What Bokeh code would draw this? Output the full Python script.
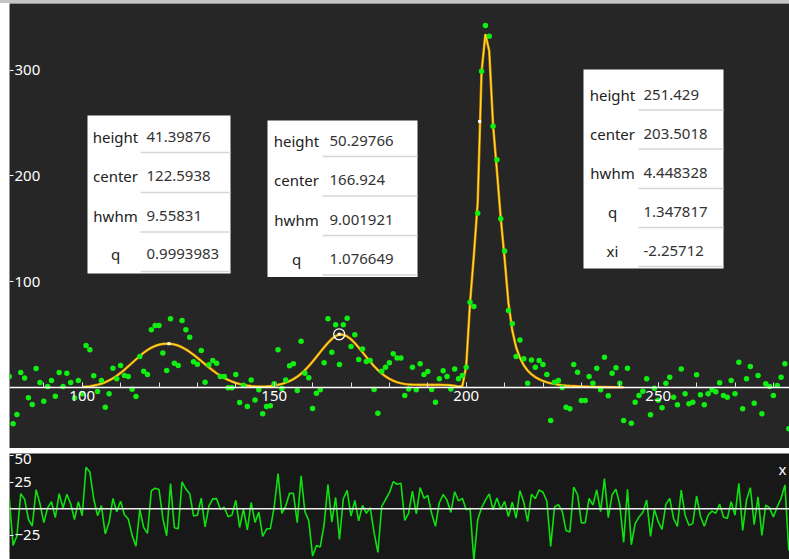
from bokeh.plotting import figure
from bokeh.layouts import column, row
from bokeh.models import Range1d, LinearAxis, FixedTicker, Span, Label, BoxAnnotation, Spacer
from bokeh.embed import file_html
from bokeh.resources import INLINE

# ---------------- data ----------------
x_data = list(range(81, 285))

y_obs = [
    10.4, -34.3, -25.5, 14.2, 9.0, -9.8, -16.1, 18.0, 4.7, -12.9,          # 81-90
    0.9, 6.6, -8.2, 14.2, 0.9, 13.5, 4.7, -10.0, 6.6, -6.0,                # 91-100
    39.7, 35.6, 11.0, -3.8, 6.6, -18.6, -6.0, 18.3, 8.2, 20.8,             # 101-110
    11.3, 10.4, -1.6, -8.5, 29.3, 15.4, 12.3, 54.5, 58.6, 58.6,            # 111-120
    32.5, 16.1, 64.9, 23.0, 20.8, 63.3, 54.5, 47.6, 24.3, 22.0,            # 121-130
    35.0, 5.0, 21.4, 25.5, 23.0, 10.4, 10.4, -0.3, -0.3, 12.3,             # 131-140
    -14.2, 2.2, -18.0, 7.2, -11.7, -2.2, -24.9, -18.0, -17.3, 3.5,         # 141-150
    35.6, -1.0, 7.2, 20.5, 22.4, -2.8, 43.8, 13.5, 9.1, -19.8,             # 151-160
    -5.4, -2.2, 23.3, 64.9, 33.4, 59.2, 21.7, 59.2, 65.5, 38.8,            # 161-170
    49.8, 26.5, 36.5, 24.6, 25.5, -1.9, -24.3, 15.4, 19.2, 23.3,           # 171-180
    31.8, 28.0, 28.0, -7.6, -1.3, 19.2, -2.2, 22.4, 12.3, 15.1,            # 181-190
    -1.9, -13.9, 8.2, 15.8, 10.4, -1.3, 17.6, 8.2, 11.3, 19.2,             # 191-200
    80.6, 76.6, 164.8, 299.0, 342.2, 332.0, 247.0, 215.2, 159.4, 128.9,    # 201-210
    72.8, 60.2, 29.3, 45.0, 27.1, 4.1, 26.1, 19.2, 25.5, 21.7,             # 211-220
    12.3, -31.2, 5.0, 6.6, 0.0, -18.6, -20.2, 21.7, 14.5, -12.3,           # 221-230
    -12.3, 10.4, 4.1, 18.3, -2.2, 28.7, -7.9, 13.5, 18.6, 4.1,             # 231-240
    -31.2, 18.3, -33.7, -13.9, -7.6, -3.5, 8.2, -25.8, -0.6, -12.0,        # 241-250
    -19.2, 4.1, 9.8, -9.1, -16.4, 17.6, -6.0, -15.4, -13.9, 12.0,          # 251-260
    -6.9, -16.4, -6.0, -2.2, -4.1, 4.4, -7.6, -9.1, 6.6, -6.0,             # 261-270
    23.9, -20.2, 8.2, 19.8, -14.8, 11.3, -24.9, 3.5, 0.9, -7.6,            # 271-280
    1.9, 9.8, 22.4, -39.0,                                                 # 281-284
]

y_fit = [
    0, 0, 0, 0, 0, 0, 0, 0, 0, 0,                                          # 81-90
    0, 0, 0, 0, 0, 0, 0, 0, 0, 0.5,                                        # 91-100
    0.8, 1.2, 1.8, 2.6, 3.6, 5.0, 6.7, 8.7, 11.1, 13.8,                    # 101-110
    16.8, 20.0, 23.3, 26.6, 29.8, 32.8, 35.4, 37.6, 39.3, 40.5,            # 111-120
    41.2, 41.4, 41.3, 40.7, 39.6, 38.0, 36.0, 33.6, 30.9, 28.0,            # 121-130
    25.0, 22.0, 19.0, 16.2, 13.5, 11.1, 9.0, 7.2, 5.6, 4.3,                # 131-140
    3.3, 2.4, 1.8, 1.3, 1.0, 0.9, 0.9, 1.0, 1.3, 1.8,                      # 141-150
    2.5, 3.4, 4.6, 6.0, 7.9, 10.2, 13.0, 16.3, 20.2, 24.5,                 # 151-160
    29.0, 33.5, 38.0, 42.2, 45.8, 48.6, 50.3, 49.8, 48.3, 45.6,            # 161-170
    42.0, 37.8, 33.3, 28.8, 24.4, 20.2, 16.5, 13.2, 10.5, 8.2,             # 171-180
    6.4, 5.0, 4.0, 3.3, 2.9, 2.7, 2.6, 2.5, 2.5, 2.5,                      # 181-190
    2.5, 2.5, 2.5, 2.4, 2.3, 2.1, 1.6, 0.8, 1.5, 20.0,                     # 191-200
    80.0, 125.0, 175.0, 298.0, 334.0, 318.0, 248.0, 205.0, 160.0, 122.0,   # 201-210
    80.0, 54.0, 38.0, 28.0, 21.0, 16.0, 12.5, 9.8, 7.8, 6.2,               # 211-220
    5.0, 4.0, 3.3, 2.7, 2.2, 1.8, 1.5, 1.3, 1.1, 0.9,                      # 221-230
    0.8, 0.7, 0.6, 0.5, 0.5, 0.4, 0.4, 0.3, 0.3, 0.3,                      # 231-240
    0.2, 0, 0, 0, 0, 0, 0, 0, 0, 0,                                        # 241-250
    0, 0, 0, 0, 0, 0, 0, 0, 0, 0,                                          # 251-260
    0, 0, 0, 0, 0, 0, 0, 0, 0, 0,                                          # 261-270
    0, 0, 0, 0, 0, 0, 0, 0, 0, 0,                                          # 271-280
    0, 0, 0, 0,                                                            # 281-284
]

residual = [o - f for o, f in zip(y_obs, y_fit)]

# the model curve is only drawn where it is defined (non-zero)
curve_x = [xv for xv, fv in zip(x_data, y_fit) if fv > 0]
curve_y = [fv for fv in y_fit if fv > 0]

peak_centers = [122.5938, 166.924, 203.5018]
peak_heights = [41.39876, 50.29766, 251.429]
selected_peak = 1

x_major_ticks = [100, 150, 200, 250]
x_minor_ticks = list(range(80, 290, 10))
y_ticks_main = [100, 200, 300]
y_ticks_resid = [-50, -25, 25, 50]

table_names = [
    ["height", "center", "hwhm", "q"],
    ["height", "center", "hwhm", "q"],
    ["height", "center", "hwhm", "q", "xi"],
]
table_values = [
    ["41.39876", "122.5938", "9.55831", "0.9993983"],
    ["50.29766", "166.924", "9.001921", "1.076649"],
    ["251.429", "203.5018", "4.448328", "1.347817", "-2.25712"],
]

# ---------------- layout (page pixels) ----------------
LEFT = 9
TOP_Y0 = 3
W = 789 - LEFT
H_TOP = 445
GAP = 5
BOT_Y0 = TOP_Y0 + H_TOP + GAP
H_BOT = 559 - BOT_Y0

def X(px):
    return 100 + (px - 81.7) / 3.84

def Y(py):
    return (387.0 - py) / 1.058

def Yb(py):
    return (508.3 - py) / 1.067

FONT = "Noto Sans"

top = figure(width=W, height=H_TOP, output_backend="svg", toolbar_location=None,
             x_range=Range1d(X(LEFT), X(LEFT + W)), y_range=Range1d(Y(TOP_Y0 + H_TOP), Y(TOP_Y0)),
             x_axis_location=None, y_axis_location=None, min_border=0)
top.background_fill_color = "#262626"
top.border_fill_color = "#262626"
top.outline_line_color = None
top.xgrid.visible = False
top.ygrid.visible = False

xax = LinearAxis(fixed_location=0,
                 ticker=FixedTicker(ticks=x_major_ticks, minor_ticks=x_minor_ticks))
xax.axis_line_color = "white"
xax.axis_line_width = 1.5
xax.major_tick_in = 5
xax.major_tick_out = 0
xax.minor_tick_in = 5
xax.minor_tick_out = 0
xax.major_tick_line_color = "#DDDDDD"
xax.minor_tick_line_color = "#DDDDDD"
xax.major_label_text_color = "white"
xax.major_label_text_font = FONT
xax.major_label_text_font_size = "15px"
xax.major_label_standoff = 3
top.add_layout(xax, "below")

yax = LinearAxis(fixed_location=X(LEFT), ticker=FixedTicker(ticks=y_ticks_main))
yax.axis_line_color = None
yax.major_tick_in = 0
yax.major_tick_out = 4
yax.minor_tick_line_color = None
yax.major_tick_line_color = "white"
yax.major_label_text_color = "white"
yax.major_label_text_font = FONT
yax.major_label_text_font_size = "15px"
yax.major_label_standoff = 1
top.add_layout(yax, "right")

# fitted curve (orange edge + yellow core)
top.line(curve_x, curve_y, line_color="#D88A00", line_width=2.6)
top.line(curve_x, curve_y, line_color="#FFDF2A", line_width=1.2)

# data points
top.scatter(x_data, y_obs, size=5.5, fill_color="#11EE11", line_color=None)

# peak handles
top.scatter(peak_centers, peak_heights, marker="square", size=3, fill_color="white", line_color=None)
top.scatter([peak_centers[selected_peak]], [peak_heights[selected_peak]], marker="circle",
            size=11, fill_color=None, line_color="white", line_width=1.3)

# parameter tables
tables = [
    dict(left=87, right=230, top=115, row_c=[136, 175.5, 215, 253.5], sep=[152, 192, 231.5, 271],
         name_c=115, val_x=146, sep_x=140),
    dict(left=267, right=417, top=120, row_c=[140, 179.5, 219, 258.3], sep=[156, 195.5, 235, 274.5],
         name_c=296, val_x=329, sep_x=322),
    dict(left=583, right=723, top=69, row_c=[94, 133, 172.5, 211, 250], sep=[109.5, 148.5, 188, 227, 266],
         name_c=612, val_x=643, sep_x=638),
]
for t, names, vals in zip(tables, table_names, table_values):
    bottom = t["sep"][-1] + 2
    top.add_layout(BoxAnnotation(left=X(t["left"]), right=X(t["right"]), top=Y(t["top"]), bottom=Y(bottom),
                                 fill_color="white", fill_alpha=1.0, line_color=None))
    for s in t["sep"]:
        top.add_layout(BoxAnnotation(left=X(t["sep_x"]), right=X(t["right"]), top=Y(s - 0.8), bottom=Y(s + 0.8),
                                     fill_color="#D6D6D6", fill_alpha=1.0, line_color=None))
    for rc, n, v in zip(t["row_c"], names, vals):
        top.add_layout(Label(x=X(t["name_c"]), y=Y(rc), text=n, text_align="center", text_baseline="middle",
                             text_font=FONT, text_font_size="15px", text_color="#222222"))
        top.add_layout(Label(x=X(t["val_x"]), y=Y(rc), text=v, text_align="left", text_baseline="middle",
                             text_font=FONT, text_font_size="15px", text_color="#333333"))

# ---------------- residual panel ----------------
bot = figure(width=W, height=H_BOT, output_backend="svg", toolbar_location=None,
             x_range=top.x_range, y_range=Range1d(Yb(BOT_Y0 + H_BOT), Yb(BOT_Y0)),
             x_axis_location=None, y_axis_location=None, min_border=0)
bot.background_fill_color = "#181818"
bot.border_fill_color = "#181818"
bot.outline_line_color = None
bot.xgrid.visible = False
bot.ygrid.visible = False

ryax = LinearAxis(fixed_location=X(LEFT), ticker=FixedTicker(ticks=y_ticks_resid))
ryax.axis_line_color = None
ryax.major_tick_in = 0
ryax.major_tick_out = 4
ryax.minor_tick_line_color = None
ryax.major_tick_line_color = "white"
ryax.major_label_text_color = "white"
ryax.major_label_text_font = FONT
ryax.major_label_text_font_size = "15px"
ryax.major_label_standoff = 1
bot.add_layout(ryax, "right")

bot.line(x_data, residual, line_color="#10E010", line_width=1.6)
bot.add_layout(Span(location=0, dimension="width", line_color="#EEEEEE", line_width=1.5))
bot.add_layout(Label(x=X(782), y=Yb(468), text="x", text_align="center", text_baseline="middle",
                     text_font=FONT, text_font_size="15px", text_color="white"))

layout = column(
    Spacer(width=789, height=TOP_Y0, styles={"background-color": "#C4C4C4"}),
    row(Spacer(width=LEFT, height=559 - TOP_Y0),
        column(top, Spacer(width=W, height=GAP), bot, spacing=0),
        spacing=0),
    spacing=0)

open("out.html", "w").write(file_html(layout, INLINE))
